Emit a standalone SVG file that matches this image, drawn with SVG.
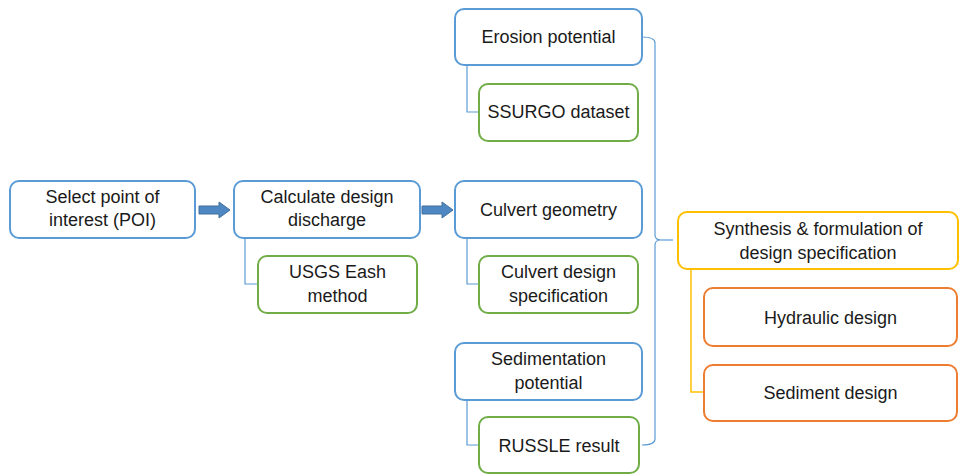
<svg xmlns="http://www.w3.org/2000/svg" width="959" height="474" viewBox="0 0 959 474">
<style>
.box{fill:#fff;stroke-width:2}
.b{stroke:#5b9bd5}
.g{stroke:#70ad47}
.y{stroke:#ffc000}
.o{stroke:#ed7d31}
text{font-family:"Liberation Sans",Arial,sans-serif;font-size:18px;fill:#1a1a1a;text-anchor:middle}
.cb{fill:none;stroke:#5b9bd5;stroke-width:1.2}
.cy{fill:none;stroke:#ffc000;stroke-width:1.5}
.arr{fill:#4f87c2;stroke:#41719c;stroke-width:1}
</style>
<g id="connectors">
<path class="cb" d="M245,238 V284 H258"/>
<path class="cb" d="M467,65 V112 H479"/>
<path class="cb" d="M467,238 V284 H479"/>
<path class="cb" d="M467,400 V445 H479"/>
<path class="cy" d="M691,269 V392 H704"/>
<path class="cb" d="M642,37 Q655,37 655,43 V235 Q655,240 661,240 Q655,240 655,245 V439 Q655,445 642,445"/>
<path class="cb" d="M661,240 H673"/>
<path class="arr" d="M199,206 H219 V202 L230,210 L219,218 V214 H199 Z"/>
<path class="arr" d="M422,206 H442 V202 L453,210 L442,218 V214 H422 Z"/>
</g>
<g id="poi"><rect class="box b" x="10" y="181" width="185" height="57" rx="9"/><text x="102.5" y="203">Select point of</text><text x="102.5" y="226">interest (POI)</text></g>
<g id="discharge"><rect class="box b" x="234" y="181" width="186" height="57" rx="9"/><text x="327" y="203">Calculate design</text><text x="327" y="226">discharge</text></g>
<g id="usgs"><rect class="box g" x="258" y="256" width="159" height="57" rx="9"/><text x="337.5" y="278">USGS Eash</text><text x="337.5" y="302">method</text></g>
<g id="erosion"><rect class="box b" x="455" y="9" width="187" height="56" rx="9"/><text x="548.5" y="43">Erosion potential</text></g>
<g id="ssurgo"><rect class="box g" x="479" y="84" width="159" height="57" rx="9"/><text x="558.5" y="118">SSURGO dataset</text></g>
<g id="culvert"><rect class="box b" x="455" y="181" width="187" height="57" rx="9"/><text x="548.5" y="216">Culvert geometry</text></g>
<g id="culvertspec"><rect class="box g" x="479" y="256" width="159" height="57" rx="9"/><text x="558.5" y="278">Culvert design</text><text x="558.5" y="302">specification</text></g>
<g id="sedimentation"><rect class="box b" x="455" y="343" width="187" height="57" rx="9"/><text x="548.5" y="365">Sedimentation</text><text x="548.5" y="389">potential</text></g>
<g id="russle"><rect class="box g" x="479" y="417" width="160" height="56" rx="9"/><text x="559" y="452">RUSSLE result</text></g>
<g id="synthesis"><rect class="box y" x="678" y="212" width="280" height="57" rx="9"/><text x="818" y="235">Synthesis &amp; formulation of</text><text x="818" y="259">design specification</text></g>
<g id="hydraulic"><rect class="box o" x="704" y="288" width="253" height="58" rx="9"/><text x="830.5" y="324">Hydraulic design</text></g>
<g id="sediment"><rect class="box o" x="704" y="365" width="253" height="56" rx="9"/><text x="830.5" y="399">Sediment design</text></g>
</svg>
